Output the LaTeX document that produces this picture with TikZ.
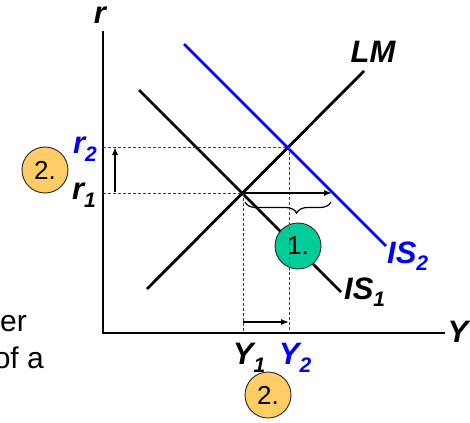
\documentclass[tikz,border=0pt]{standalone}
\usepackage{fontspec}
\setmainfont{Liberation Sans}
\usetikzlibrary{decorations.pathreplacing,arrows.meta}
\definecolor{isblue}{RGB}{0,0,255}
\definecolor{circgreen}{RGB}{0,204,153}
\definecolor{circorange}{RGB}{255,204,102}
\newcommand{\subsc}[1]{\raisebox{-0.45ex}{\fontsize{21}{22}\selectfont #1}}
\begin{document}
\begin{tikzpicture}[x=1pt,y=-1pt,
  curve/.style={line width=2.8pt,line cap=butt},
  axis/.style={line width=1.4pt},
  guide/.style={line width=0.8pt,dash pattern=on 3pt off 2pt,black!75},
  lab/.style={font=\fontsize{31}{34}\selectfont\bfseries\itshape,inner sep=0pt},
  badge/.style={circle,draw=black!85,line width=0.9pt,minimum size=46pt,inner sep=0pt,font=\fontsize{26}{28}\selectfont},
  sidetext/.style={font=\fontsize{30}{34}\selectfont,inner sep=0pt,anchor=base east},
  shiftarrow/.style={line width=1.3pt,-{Latex[length=8pt,width=6pt]}}
]
\useasboundingbox (0,0) rectangle (470,422);
\clip (0,0) rectangle (470,422);
% side text, cut off at the left edge as in the reference
\node[sidetext] (t1) at (27,331) {er};
\node[sidetext] (t2) at (44,368) {of a};
% axes
\coordinate (O) at (103,333);
\coordinate (ytop) at (103,31);
\coordinate (xend) at (445,333);
\draw[axis] (ytop) -- (O) -- (xend);
\node[lab] (rlab) at (100,15) {r};
\node[lab] (Ylab) at (458,332) {Y};
% curves
\coordinate (lmA) at (147,289);
\coordinate (lmB) at (364,71);
\coordinate (is1A) at (139,90);
\coordinate (is1B) at (341,292);
\coordinate (is2A) at (184,44);
\coordinate (is2B) at (386,246);
\draw[curve] (lmA) -- (lmB);
\draw[curve] (is1A) -- (is1B);
\draw[curve,isblue] (is2A) -- (is2B);
\node[lab] (LMlab) at (373,52) {LM};
\node[lab,anchor=west] (IS1lab) at (344,292) {IS\subsc{1}};
\node[lab,anchor=west,text=isblue] (IS2lab) at (387,256) {IS\subsc{2}};
% equilibria
\coordinate (E1) at (243,193);
\coordinate (E2) at (289,147);
\coordinate (r1) at (103,193);
\coordinate (r2) at (103,147);
\coordinate (Y1) at (243,333);
\coordinate (Y2) at (289,333);
% green badge
\node[badge,fill=circgreen] (b1) at (298,246) {1.};
% guides
\draw[guide] (r1) -- (E1);
\draw[guide] (r2) -- (E2);
\draw[guide] (E1) -- (Y1);
\draw[guide] (E2) -- (Y2);
% shift arrows
\coordinate (hA) at (243,193);
\coordinate (hB) at (332,193);
\draw[shiftarrow] (hA) -- (hB);
\coordinate (vA) at (115,192);
\coordinate (vB) at (115,147);
\draw[shiftarrow] (vA) -- (vB);
\coordinate (bA) at (243,322);
\coordinate (bB) at (289,322);
\draw[shiftarrow] (bA) -- (bB);
\coordinate (brA) at (245,202);
\coordinate (brB) at (331,202);
\draw[line width=1.2pt,decorate,decoration={brace,mirror,amplitude=11pt,aspect=0.6}] (brA) -- (brB);
% axis labels
\node[lab,isblue] (r2lab) at (85,149) {r\subsc{2}};
\node[lab] (r1lab) at (84,195) {r\subsc{1}};
\node[lab] (Y1lab) at (249,358) {Y\subsc{1}};
\node[lab,isblue] (Y2lab) at (295,358) {Y\subsc{2}};
% orange badges
\node[badge,fill=circorange] (b2) at (45,170) {2.};
\node[badge,fill=circorange] (b3) at (268,395) {2.};
\end{tikzpicture}
\end{document}
